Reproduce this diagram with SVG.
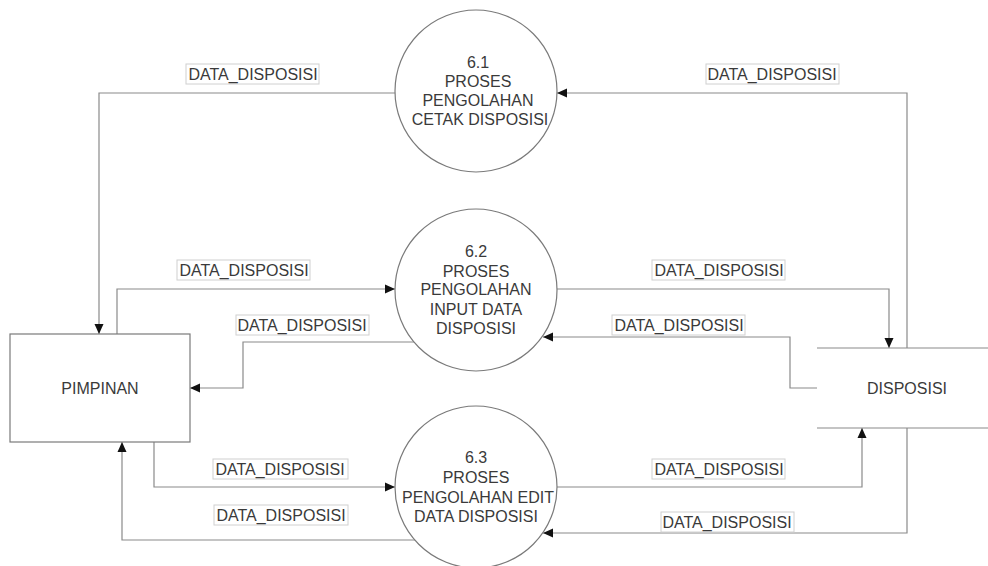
<svg xmlns="http://www.w3.org/2000/svg" width="988" height="566" viewBox="0 0 988 566">
  <style>
    .bg { fill: #ffffff; }
    .flow { fill: none; stroke: #8a8a8a; stroke-width: 1.2; }
    .proc { fill: #ffffff; stroke: #7a7a7a; stroke-width: 1.2; }
    .ent { fill: #ffffff; stroke: #7a7a7a; stroke-width: 1.2; }
    .store { fill: none; stroke: #8a8a8a; stroke-width: 1.2; }
    .txt { font-family: "Liberation Sans", Arial, sans-serif; font-size: 16px; fill: #3a3a3a; text-anchor: middle; }
    .lblbox { fill: #ffffff; stroke: #d0d0d0; stroke-width: 1; }
  </style>
  <defs>
    <marker id="arr" viewBox="0 0 10 10" refX="10" refY="5" markerWidth="10" markerHeight="10" markerUnits="userSpaceOnUse" orient="auto">
      <path d="M0,0.5 L10,5 L0,9.5 Z" fill="#111"/>
    </marker>
  </defs>

  <rect class="bg" x="0" y="0" width="988" height="566"/>

  <!-- data flows -->
  <g id="connectors">
    <path class="flow" d="M395,93 H99 V334" marker-end="url(#arr)"/>
    <path class="flow" d="M907,348 V93 H557" marker-end="url(#arr)"/>
    <path class="flow" d="M117,334 V289 H395" marker-end="url(#arr)"/>
    <path class="flow" d="M414,342 H243 V388 H190" marker-end="url(#arr)"/>
    <path class="flow" d="M557,289 H889 V348" marker-end="url(#arr)"/>
    <path class="flow" d="M817,388 H790 V337 H543" marker-end="url(#arr)"/>
    <path class="flow" d="M154,442 V487 H395" marker-end="url(#arr)"/>
    <path class="flow" d="M415,540 H122 V442" marker-end="url(#arr)"/>
    <path class="flow" d="M557,487 H862 V428" marker-end="url(#arr)"/>
    <path class="flow" d="M907,428 V533 H543" marker-end="url(#arr)"/>
  </g>

  <!-- flow labels -->
  <g id="labels">
    <rect class="lblbox" x="186" y="64" width="133" height="20"/>
    <text class="txt" x="253" y="80">DATA_DISPOSISI</text>
    <rect class="lblbox" x="706" y="64" width="133" height="20"/>
    <text class="txt" x="772" y="80">DATA_DISPOSISI</text>
    <rect class="lblbox" x="177" y="260" width="133" height="20"/>
    <text class="txt" x="244" y="276">DATA_DISPOSISI</text>
    <rect class="lblbox" x="236" y="315" width="133" height="20"/>
    <text class="txt" x="302" y="331">DATA_DISPOSISI</text>
    <rect class="lblbox" x="652" y="260" width="133" height="20"/>
    <text class="txt" x="719" y="276">DATA_DISPOSISI</text>
    <rect class="lblbox" x="612" y="315" width="133" height="20"/>
    <text class="txt" x="679" y="331">DATA_DISPOSISI</text>
    <rect class="lblbox" x="213" y="459" width="135" height="20"/>
    <text class="txt" x="280" y="475">DATA_DISPOSISI</text>
    <rect class="lblbox" x="214" y="505" width="134" height="20"/>
    <text class="txt" x="281" y="521">DATA_DISPOSISI</text>
    <rect class="lblbox" x="652" y="459" width="133" height="20"/>
    <text class="txt" x="719" y="475">DATA_DISPOSISI</text>
    <rect class="lblbox" x="661" y="512" width="133" height="20"/>
    <text class="txt" x="727" y="528">DATA_DISPOSISI</text>
  </g>

  <!-- processes -->
  <g id="p61">
    <circle class="proc" cx="476" cy="91" r="81"/>
    <text class="txt" x="478" y="68">6.1</text>
    <text class="txt" x="478" y="87">PROSES</text>
    <text class="txt" x="478" y="106">PENGOLAHAN</text>
    <text class="txt" x="480" y="125">CETAK DISPOSISI</text>
  </g>
  <g id="p62">
    <circle class="proc" cx="476" cy="290" r="81"/>
    <text class="txt" x="476" y="257">6.2</text>
    <text class="txt" x="476" y="277">PROSES</text>
    <text class="txt" x="476" y="295">PENGOLAHAN</text>
    <text class="txt" x="476" y="315">INPUT DATA</text>
    <text class="txt" x="476" y="334">DISPOSISI</text>
  </g>
  <g id="p63">
    <circle class="proc" cx="476" cy="487" r="81"/>
    <text class="txt" x="476" y="463">6.3</text>
    <text class="txt" x="476" y="483">PROSES</text>
    <text class="txt" x="478" y="503">PENGOLAHAN EDIT</text>
    <text class="txt" x="476" y="522">DATA DISPOSISI</text>
  </g>

  <!-- external entity -->
  <g id="pimpinan">
    <rect class="ent" x="10" y="334" width="180" height="108"/>
    <text class="txt" x="100" y="394">PIMPINAN</text>
  </g>

  <!-- data store -->
  <g id="disposisi">
    <line class="store" x1="817" y1="348" x2="988" y2="348"/>
    <line class="store" x1="817" y1="428" x2="988" y2="428"/>
    <text class="txt" x="907" y="394">DISPOSISI</text>
  </g>
</svg>
